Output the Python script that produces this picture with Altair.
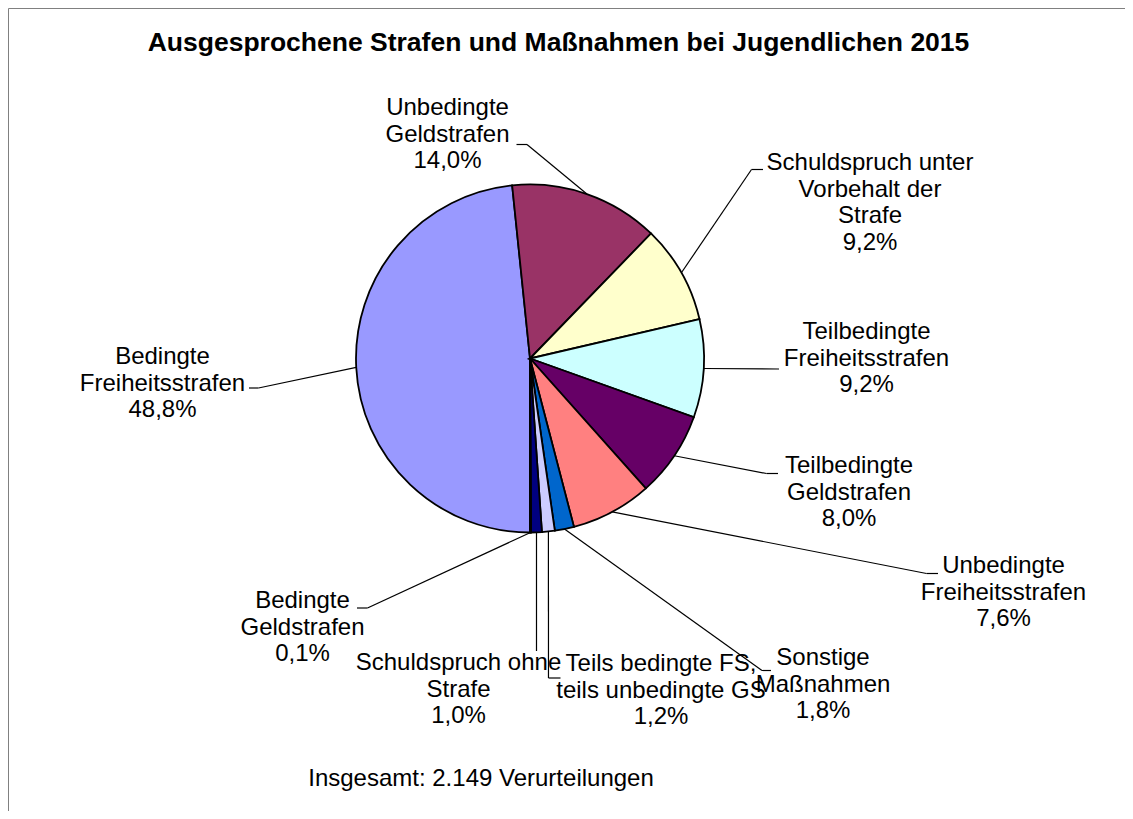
import math
import altair as alt
import pandas as pd

# ---- data ----
categories = [
    "Bedingte Freiheitsstrafen",
    "Unbedingte Geldstrafen",
    "Schuldspruch unter Vorbehalt der Strafe",
    "Teilbedingte Freiheitsstrafen",
    "Teilbedingte Geldstrafen",
    "Unbedingte Freiheitsstrafen",
    "Sonstige Maßnahmen",
    "Teils bedingte FS, teils unbedingte GS",
    "Schuldspruch ohne Strafe",
    "Bedingte Geldstrafen",
]
shares = [48.8, 14.0, 9.2, 9.2, 8.0, 7.6, 1.8, 1.2, 1.0, 0.1]
label_lines = [
    ["Bedingte", "Freiheitsstrafen"],
    ["Unbedingte", "Geldstrafen"],
    ["Schuldspruch unter", "Vorbehalt der", "Strafe"],
    ["Teilbedingte", "Freiheitsstrafen"],
    ["Teilbedingte", "Geldstrafen"],
    ["Unbedingte", "Freiheitsstrafen"],
    ["Sonstige", "Maßnahmen"],
    ["Teils bedingte FS,", "teils unbedingte GS"],
    ["Schuldspruch ohne", "Strafe"],
    ["Bedingte", "Geldstrafen"],
]
title_text = "Ausgesprochene Strafen und Maßnahmen bei Jugendlichen 2015"
footer_text = "Insgesamt: 2.149 Verurteilungen"

# ---- styles / layout ----
colors = ["#9999FF", "#993366", "#FFFFCC", "#CCFFFF", "#660066",
          "#FF8080", "#0066CC", "#CCCCFF", "#000080", "#FF00FF"]
W, H = 1117, 803
OFF = 8  # page margin
CX, CY, R = 530 - OFF, 358.5 - OFF, 174
FONT = "Liberation Sans"
FS = 24
LH = 26.5

# label first-line centres, leader elbow and end points (page coordinates)
label_pos = [(162.5, 357), (447.5, 108), (870, 163), (866.5, 332),
             (849, 466), (1003.5, 566), (823, 658), (661, 664),
             (458.5, 663), (302.5, 601)]
elbows = [(258.5, 388), (527, 144.5), (751.5, 169.5), (779, 369),
          (766.5, 473.5), (926.5, 573.5), (762, 670.5), (548.5, 678),
          (536.5, 651), (367.5, 608)]
ends = [(249, 388), (516.5, 144.5), (763, 169.5), (779, 369),
        (778, 473.5), (938, 573.5), (771, 670.5), (560.5, 678),
        (536.5, 651), (357, 608)]


def pct(v):
    return f"{v:.1f}".replace(".", ",") + "%"


rows = []
for i, (c, v) in enumerate(zip(categories, shares)):
    rows.append({
        "idx": i, "name": c, "share": v,
        "label": "\n".join(label_lines[i] + [pct(v)]),
        "lx": label_pos[i][0] - OFF, "ly": label_pos[i][1] - OFF,
        "ex": elbows[i][0] - OFF, "ey": elbows[i][1] - OFF,
        "tx": ends[i][0] - OFF, "ty": ends[i][1] - OFF,
    })
df = pd.DataFrame(rows)

base = alt.Chart(df)

pie = base.mark_arc(radius=R, stroke="black", strokeWidth=1.8).encode(
    theta=alt.Theta("share:Q", stack=True,
                    scale=alt.Scale(range=[math.pi, 3 * math.pi])),
    order=alt.Order("idx:Q"),
    color=alt.Color("name:N", legend=None,
                    scale=alt.Scale(domain=categories, range=colors)),
    x=alt.value(CX), y=alt.value(CY),
)

geo = base.transform_joinaggregate(
    total="sum(share)"
).transform_window(
    cum="sum(share)", sort=[alt.SortField("idx")], frame=[None, 0]
).transform_calculate(
    mid="PI + 2*PI*(datum.cum - datum.share/2)/datum.total"
).transform_calculate(
    sx=f"{CX} + {R}*sin(datum.mid)",
    sy=f"{CY} - {R}*cos(datum.mid)",
)

leader1 = geo.mark_rule(color="black", strokeWidth=1.2).encode(
    x=alt.X("sx:Q", scale=None), y=alt.Y("sy:Q", scale=None),
    x2="ex:Q", y2="ey:Q",
)
leader2 = geo.mark_rule(color="black", strokeWidth=1.2).encode(
    x=alt.X("ex:Q", scale=None), y=alt.Y("ey:Q", scale=None),
    x2="tx:Q", y2="ty:Q",
)

labels = base.mark_text(font=FONT, fontSize=FS, lineBreak="\n", lineHeight=LH,
                        align="center", baseline="middle", color="black").encode(
    x=alt.X("lx:Q", scale=None), y=alt.Y("ly:Q", scale=None), text="label:N",
)

footer = alt.Chart(alt.Data(values=[{"t": footer_text}])).mark_text(
    font=FONT, fontSize=FS, align="center", baseline="middle", color="black"
).encode(x=alt.value(481 - OFF), y=alt.value(779 - OFF), text="t:N")

frame_data = alt.Data(values=[{"k": 1}])
top_border = alt.Chart(frame_data).mark_rule(color="#808080", strokeWidth=1).encode(
    x=alt.value(0.5), x2=alt.value(W), y=alt.value(0.5))
left_border = alt.Chart(frame_data).mark_rule(color="#808080", strokeWidth=1).encode(
    x=alt.value(0.5), y=alt.value(0.5), y2=alt.value(H))

chart = alt.layer(
    top_border, left_border, pie, leader1, leader2, labels, footer
).properties(
    width=W, height=H, padding=0,
    autosize=alt.AutoSizeParams(type="none"),
    title=alt.TitleParams(text=title_text, font=FONT, fontSize=26.5,
                          fontWeight="bold", anchor="middle", offset=0,
                          baseline="middle", dy=61, dx=-8, color="black"),
).configure_view(stroke=None)

chart.save("out.html", embed_options={"renderer": "svg", "actions": False})
